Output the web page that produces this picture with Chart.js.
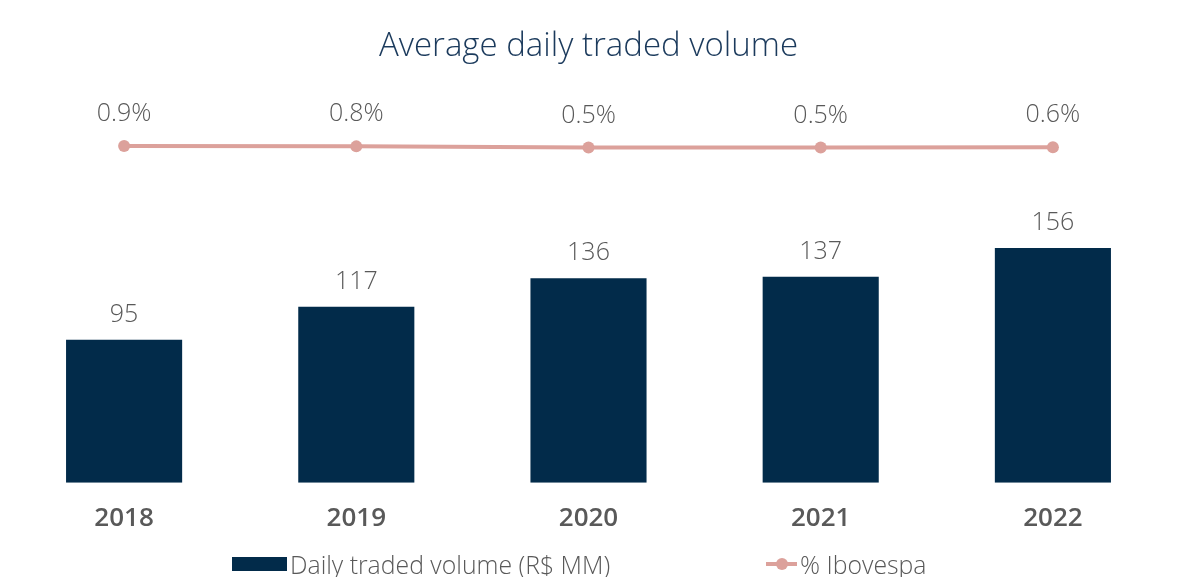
<!DOCTYPE html>
<html>
<head>
<meta charset="utf-8">
<script src="https://cdn.jsdelivr.net/npm/chart.js@4/dist/chart.umd.min.js"></script>
<style>
  html, body { margin: 0; padding: 0; background: #fff; }
  #wrap { position: relative; width: 1184px; height: 577px; }
  #legend { position: absolute; top: 547px; left: 0; width: 1184px; height: 34px;
    font-family: "Open Sans", "Noto Sans", sans-serif; font-weight: 300; font-size: 24.8px; color: #595959; }
  .item { position: absolute; display: flex; align-items: center; white-space: nowrap; }
  .box { width: 55px; height: 14px; background: #022b4a; margin-right: 3px; }
  .lmark { position: relative; width: 31px; height: 14px; margin-right: 3px; }
  .lmark:before { content: ""; position: absolute; left: 0; right: 0; top: 5px; height: 4px; background: #dca19b; }
  .lmark:after { content: ""; position: absolute; left: 10px; top: 1px; width: 12px; height: 12px; border-radius: 50%; background: #dca19b; }
</style>
</head>
<body>
<div id="wrap">
  <canvas id="volumeChart" width="1184" height="577"></canvas>
  <div id="legend"></div>
</div>
<script>
var years = ['2018', '2019', '2020', '2021', '2022'];
var dailyVolume = [95, 117, 136, 137, 156];
var ibovespaShare = [0.9, 0.8, 0.5, 0.5, 0.6];
var volumeLabel = 'Daily traded volume (R$ MM)';
var shareLabel = '% Ibovespa';

var barColor = '#022b4a';
var lineColor = '#dca19b';
var textColor = '#595959';
var fontFamily = '"Open Sans", "Noto Sans", sans-serif';

// value labels above bars and points
var valueLabels = {
    id: 'valueLabels',
    afterDatasetsDraw: function(chart) {
        var ctx = chart.ctx;
        ctx.save();
        ctx.fillStyle = textColor;
        ctx.textAlign = 'center';
        ctx.textBaseline = 'middle';
        ctx.font = '300 25px ' + fontFamily;
        chart.getDatasetMeta(1).data.forEach(function(bar, i) {
            ctx.fillText(dailyVolume[i], bar.x, bar.y - 25);
        });
        chart.getDatasetMeta(0).data.forEach(function(pt, i) {
            ctx.fillText(ibovespaShare[i].toFixed(1) + '%', pt.x, pt.y - 32);
        });
        ctx.restore();
    }
};

var ctx = document.getElementById('volumeChart').getContext('2d');
var volumeChart = new Chart(ctx, {
    data: {
        labels: years,
        datasets: [{
            type: 'line',
            label: shareLabel,
            data: ibovespaShare,
            yAxisID: 'y2',
            borderColor: lineColor,
            backgroundColor: lineColor,
            borderWidth: 4,
            pointRadius: 6,
            pointBorderWidth: 0,
            order: 0
        }, {
            type: 'bar',
            label: volumeLabel,
            data: dailyVolume,
            yAxisID: 'y',
            backgroundColor: barColor,
            categoryPercentage: 1,
            barPercentage: 0.5,
            order: 1
        }]
    },
    options: {
        responsive: false,
        animation: false,
        layout: { padding: { left: 8, right: 15, top: 0, bottom: 31 } },
        plugins: {
            legend: { display: false },
            tooltip: { enabled: false },
            title: {
                display: true,
                text: 'Average daily traded volume',
                color: '#1b3a5c',
                font: { family: fontFamily, size: 33, weight: '300' },
                padding: { top: 27, bottom: 25 }
            }
        },
        scales: {
            x: {
                grid: { display: false },
                border: { display: false },
                ticks: {
                    color: textColor,
                    padding: 12,
                    font: { family: fontFamily, size: 26, weight: '600' }
                }
            },
            y: { display: false, min: 0, max: 260 },
            y2: { display: false, min: -85.2, max: 14.8 }
        }
    },
    plugins: [valueLabels]
});

// legend
var legend = document.getElementById('legend');
legend.innerHTML =
    '<div class="item" style="left:232px"><span class="box"></span>' + volumeLabel + '</div>' +
    '<div class="item" style="left:766px"><span class="lmark"></span>' + shareLabel + '</div>';
</script>
</body>
</html>
